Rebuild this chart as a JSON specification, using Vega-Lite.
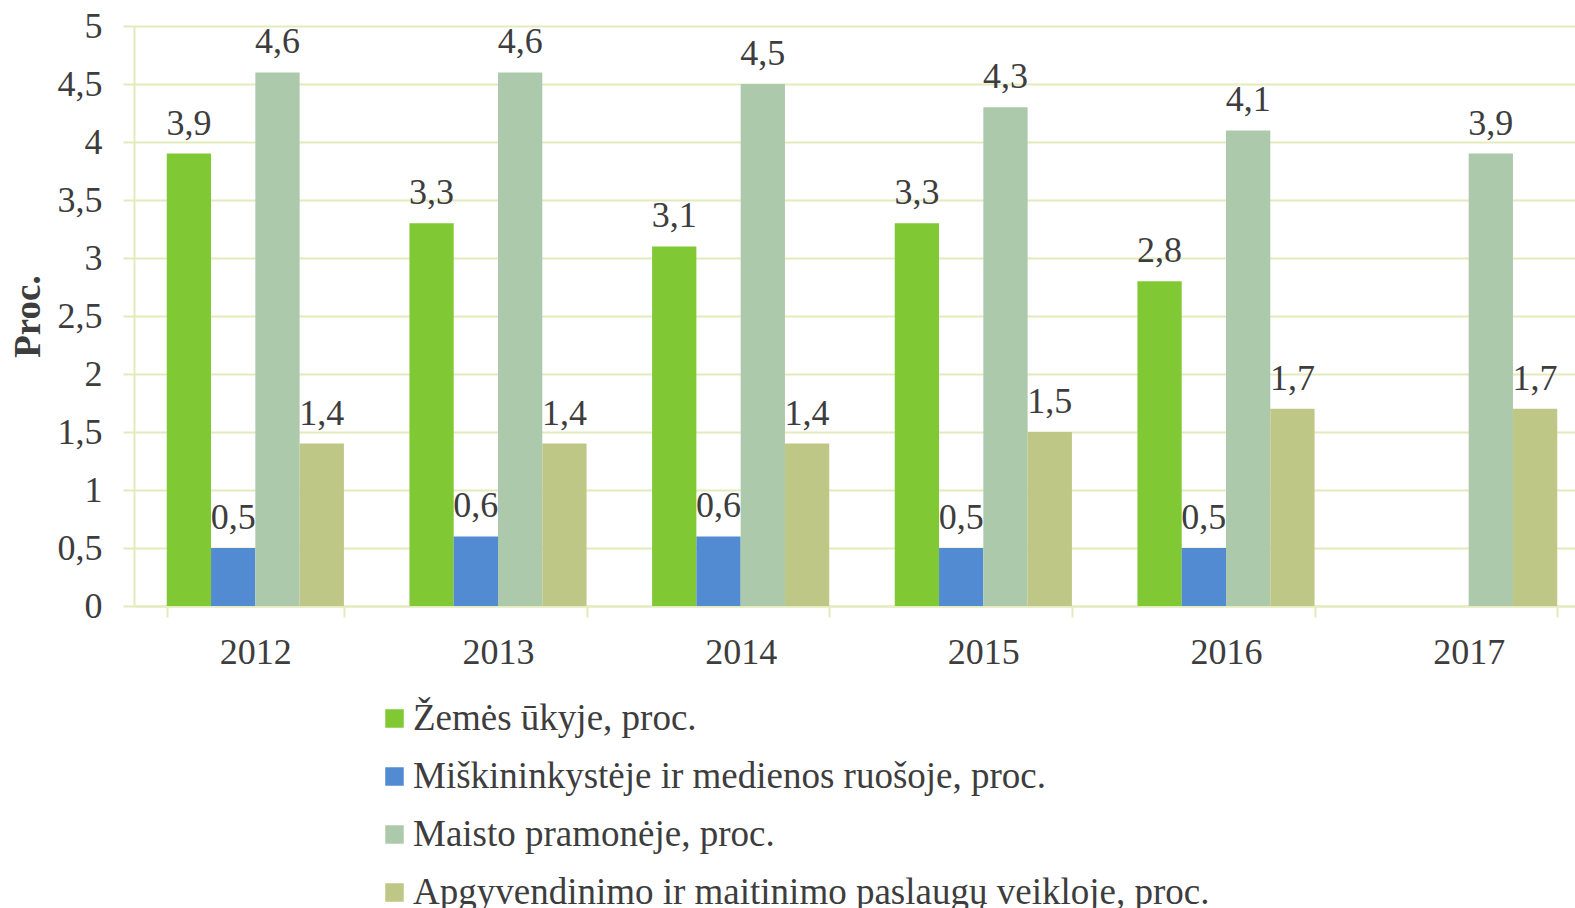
{
  "$schema": "https://vega.github.io/schema/vega-lite/v6.json",
  "autosize": {"type": "none"},
  "width": 1441,
  "height": 580,
  "padding": {"left": 134, "top": 26, "right": 0, "bottom": 302},
  "background": "white",
  "config": {
    "locale": {"number": {"decimal": ",", "thousands": " ", "grouping": [3], "currency": ["", " €"]}},
    "font": "Liberation Serif",
    "view": {"stroke": null},
    "axis": {"labelFont": "Liberation Serif", "titleFont": "Liberation Serif", "labelColor": "#3d3d3d", "titleColor": "#3d3d3d"}
  },
  "data": {"values": [
    {"year": "2012", "series": "Žemės ūkyje, proc.", "value": 3.9},
    {"year": "2012", "series": "Miškininkystėje ir medienos ruošoje, proc.", "value": 0.5},
    {"year": "2012", "series": "Maisto pramonėje, proc.", "value": 4.6},
    {"year": "2012", "series": "Apgyvendinimo ir maitinimo paslaugų veikloje, proc.", "value": 1.4},
    {"year": "2013", "series": "Žemės ūkyje, proc.", "value": 3.3},
    {"year": "2013", "series": "Miškininkystėje ir medienos ruošoje, proc.", "value": 0.6},
    {"year": "2013", "series": "Maisto pramonėje, proc.", "value": 4.6},
    {"year": "2013", "series": "Apgyvendinimo ir maitinimo paslaugų veikloje, proc.", "value": 1.4},
    {"year": "2014", "series": "Žemės ūkyje, proc.", "value": 3.1},
    {"year": "2014", "series": "Miškininkystėje ir medienos ruošoje, proc.", "value": 0.6},
    {"year": "2014", "series": "Maisto pramonėje, proc.", "value": 4.5},
    {"year": "2014", "series": "Apgyvendinimo ir maitinimo paslaugų veikloje, proc.", "value": 1.4},
    {"year": "2015", "series": "Žemės ūkyje, proc.", "value": 3.3},
    {"year": "2015", "series": "Miškininkystėje ir medienos ruošoje, proc.", "value": 0.5},
    {"year": "2015", "series": "Maisto pramonėje, proc.", "value": 4.3},
    {"year": "2015", "series": "Apgyvendinimo ir maitinimo paslaugų veikloje, proc.", "value": 1.5},
    {"year": "2016", "series": "Žemės ūkyje, proc.", "value": 2.8},
    {"year": "2016", "series": "Miškininkystėje ir medienos ruošoje, proc.", "value": 0.5},
    {"year": "2016", "series": "Maisto pramonėje, proc.", "value": 4.1},
    {"year": "2016", "series": "Apgyvendinimo ir maitinimo paslaugų veikloje, proc.", "value": 1.7},
    {"year": "2017", "series": "Žemės ūkyje, proc.", "value": null},
    {"year": "2017", "series": "Miškininkystėje ir medienos ruošoje, proc.", "value": null},
    {"year": "2017", "series": "Maisto pramonėje, proc.", "value": 3.9},
    {"year": "2017", "series": "Apgyvendinimo ir maitinimo paslaugų veikloje, proc.", "value": 1.7}
  ]},
  "encoding": {
    "x": {
      "field": "year", "type": "nominal",
      "scale": {"range": [0, 1456], "paddingInner": 0.27, "paddingOuter": 0.135},
      "axis": {
        "title": null, "labelAngle": 0, "labelFontSize": 36, "labelPadding": 18,
        "tickBand": "extent", "tickSize": 11, "tickColor": "#e3ebbd", "tickWidth": 2,
        "domainColor": "#e3ebbd", "domainWidth": 2, "grid": false
      }
    },
    "xOffset": {
      "field": "series", "type": "nominal",
      "sort": ["Žemės ūkyje, proc.", "Miškininkystėje ir medienos ruošoje, proc.", "Maisto pramonėje, proc.", "Apgyvendinimo ir maitinimo paslaugų veikloje, proc."],
      "scale": {"paddingInner": 0, "paddingOuter": 0}
    },
    "y": {
      "field": "value", "type": "quantitative",
      "scale": {"domain": [0, 5], "nice": false},
      "axis": {
        "title": "Proc.", "titleFontSize": 37, "titleFontWeight": "bold", "titlePadding": 10,
        "values": [0, 0.5, 1, 1.5, 2, 2.5, 3, 3.5, 4, 4.5, 5], "format": ".1~f",
        "labelFontSize": 36, "labelPadding": 21,
        "tickSize": 11, "tickColor": "#e3ebbd", "tickWidth": 2,
        "domain": true, "domainColor": "#e3ebbd", "domainWidth": 2,
        "grid": true, "gridColor": "#e3ebbd", "gridWidth": 2
      }
    }
  },
  "layer": [
    {
      "mark": {"type": "bar"},
      "encoding": {
        "color": {
          "field": "series", "type": "nominal",
          "scale": {
            "domain": ["Žemės ūkyje, proc.", "Miškininkystėje ir medienos ruošoje, proc.", "Maisto pramonėje, proc.", "Apgyvendinimo ir maitinimo paslaugų veikloje, proc."],
            "range": ["#80c935", "#528bd1", "#adc9ab", "#bec786"]
          },
          "legend": {
            "title": null, "orient": "none", "legendX": 242, "legendY": 674,
            "direction": "vertical", "symbolType": "square", "symbolSize": 342,
            "symbolStrokeWidth": 0, "symbolOpacity": 1,
            "labelFont": "Liberation Serif", "labelFontSize": 37, "labelColor": "#3d3d3d",
            "labelOffset": 0, "rowPadding": 20, "padding": 0, "labelLimit": 1500
          }
        }
      }
    },
    {
      "transform": [{"filter": "datum.value != null"}],
      "mark": {"type": "text", "baseline": "alphabetic", "dy": -19, "fontSize": 36, "font": "Liberation Serif", "color": "#3d3d3d"},
      "encoding": {
        "text": {"field": "value", "type": "quantitative", "format": ".1f"}
      }
    }
  ]
}
